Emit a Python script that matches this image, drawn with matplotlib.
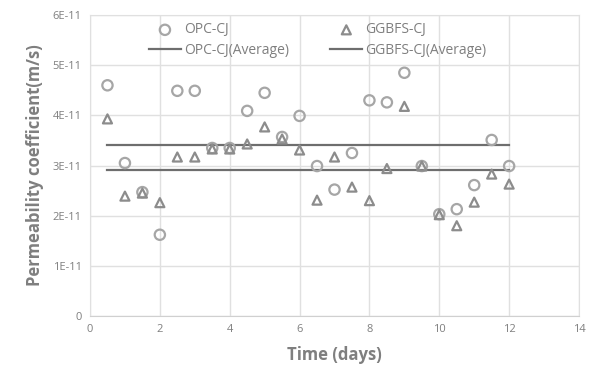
import matplotlib
matplotlib.use("Agg")
import matplotlib.pyplot as plt
from matplotlib.ticker import FixedLocator

time_days = [0.5, 1, 1.5, 2, 2.5, 3, 3.5, 4, 4.5, 5, 5.5, 6, 6.5, 7, 7.5, 8,
             8.5, 9, 9.5, 10, 10.5, 11, 11.5, 12]
opc_cj = [4.60, 3.05, 2.47, 1.62, 4.49, 4.49, 3.35, 3.35, 4.09, 4.45, 3.57, 3.99,
          2.99, 2.52, 3.25, 4.30, 4.26, 4.85, 2.99, 2.03, 2.13, 2.61, 3.51, 2.99]
ggbfs_cj = [3.93, 2.39, 2.45, 2.26, 3.17, 3.17, 3.33, 3.33, 3.43, 3.77, 3.53, 3.31,
            2.31, 3.17, 2.57, 2.30, 2.94, 4.18, 2.99, 2.02, 1.80, 2.27, 2.83, 2.63]
opc_avg = 3.41
ggbfs_avg = 2.92
scale = 1e-11
y_ticks = [0, 1, 2, 3, 4, 5, 6]
y_tick_labels = ["0", "1E-11", "2E-11", "3E-11", "4E-11", "5E-11", "6E-11"]
x_ticks = [0, 2, 4, 6, 8, 10, 12, 14]

plt.rcParams['font.family'] = ['Open Sans', 'DejaVu Sans']

fig = plt.figure(figsize=(6, 3.87), dpi=100)
ax = fig.add_axes([0.15, 0.1835, 0.815, 0.7775])

opc = [v * scale for v in opc_cj]
gg = [v * scale for v in ggbfs_cj]

h1 = ax.scatter(time_days, opc, marker='o', s=55, facecolors='none',
                edgecolors='#a6a6a6', linewidths=1.6, label='OPC-CJ', zorder=3)
h2 = ax.scatter(time_days, gg, marker='^', s=42, facecolors='none',
                edgecolors='#8c8c8c', linewidths=1.6, label='GGBFS-CJ', zorder=3)
h3, = ax.plot([time_days[0], time_days[-1]], [opc_avg * scale] * 2, color='#6e6e6e',
              lw=1.6, label='OPC-CJ(Average)', zorder=2)
h4, = ax.plot([time_days[0], time_days[-1]], [ggbfs_avg * scale] * 2, color='#6e6e6e',
              lw=1.6, label='GGBFS-CJ(Average)', zorder=2)

ax.set_xlim(0, 14)
ax.set_ylim(0, 6 * scale)
ax.xaxis.set_major_locator(FixedLocator(x_ticks))
ax.yaxis.set_major_locator(FixedLocator([t * scale for t in y_ticks]))
ax.set_yticklabels(y_tick_labels)
ax.grid(True, color='#e0e0e0', lw=1)
ax.set_axisbelow(True)
for s in ax.spines.values():
    s.set_color('#e0e0e0')
ax.spines['bottom'].set_color('#d0d0d0')
ax.tick_params(length=0, colors='#7f7f7f', labelsize=8, pad=6)

ax.set_xlabel('Time (days)', fontsize=12, fontweight='bold', color='#7f7f7f', labelpad=8)
ax.set_ylabel('Permeability coefficient(m/s)', fontsize=12, fontweight='bold',
              color='#7f7f7f', labelpad=6)

leg = ax.legend([h1, h3, h2, h4],
                ['OPC-CJ', 'OPC-CJ(Average)', 'GGBFS-CJ', 'GGBFS-CJ(Average)'],
                loc='upper left', bbox_to_anchor=(0.095, 1.017), ncol=2, frameon=False,
                fontsize=10, columnspacing=3.0, handlelength=2.3, handletextpad=0.2,
                labelspacing=0.4, scatterpoints=1)
for t in leg.get_texts():
    t.set_color('#7f7f7f')

fig.savefig('out.png', dpi=100)
